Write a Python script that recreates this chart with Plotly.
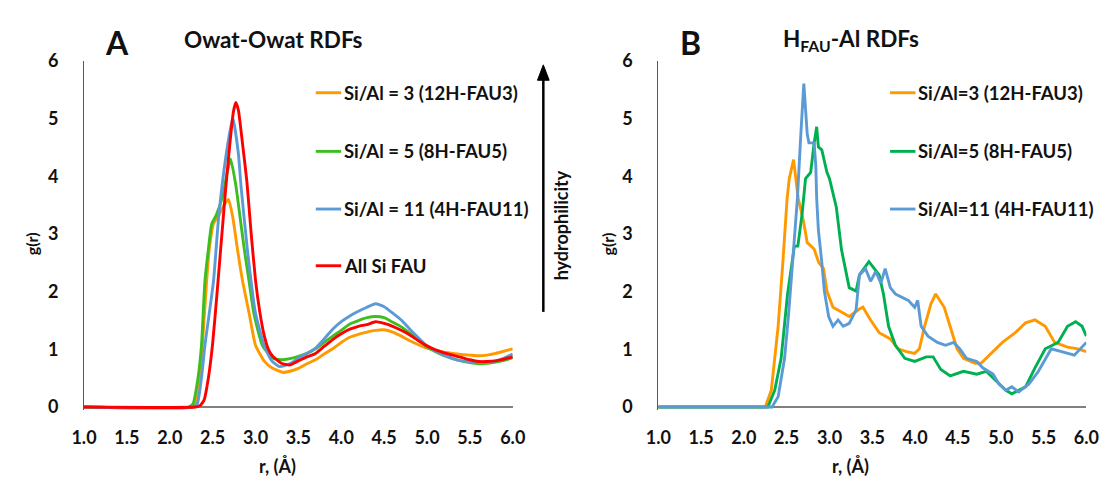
import plotly.graph_objects as go

# ---------------- Panel A: Owat-Owat RDFs ----------------
a3_r = [1.0, 2.25, 2.30, 2.35, 2.38, 2.43, 2.46, 2.51, 2.58, 2.64, 2.685, 2.735, 2.79, 2.85, 2.925, 3.00, 3.10, 3.19, 3.32, 3.40,
        3.5, 3.6, 3.7, 3.8, 3.9, 4.0, 4.1, 4.2, 4.3, 4.4, 4.5, 4.6, 4.7, 4.8, 4.9, 5.0, 5.1, 5.2, 5.3, 5.4, 5.5, 5.6, 5.7, 5.8, 5.9, 6.0]
a3_g = [0, 0, 0.05, 0.5, 1.07, 2.18, 2.73, 3.18, 3.35, 3.52, 3.6, 3.29, 2.73, 2.18, 1.63, 1.07, 0.8, 0.68, 0.6, 0.62,
        0.67, 0.75, 0.82, 0.92, 1.01, 1.12, 1.21, 1.26, 1.3, 1.33, 1.34, 1.3, 1.23, 1.15, 1.08, 1.02, 0.98, 0.95, 0.93, 0.91, 0.9, 0.89, 0.9, 0.93, 0.97, 1.01]

a5_r = [1.0, 2.22, 2.27, 2.33, 2.37, 2.41, 2.45, 2.49, 2.54, 2.62, 2.67, 2.71, 2.77, 2.82, 2.87, 2.925, 2.98, 3.08, 3.20, 3.30, 3.40,
        3.5, 3.6, 3.7, 3.8, 3.9, 4.0, 4.1, 4.2, 4.3, 4.4, 4.5, 4.6, 4.7, 4.8, 4.9, 5.0, 5.1, 5.2, 5.3, 5.4, 5.5, 5.6, 5.7, 5.8, 5.9, 6.0]
a5_g = [0, 0, 0.05, 0.51, 1.07, 2.18, 2.73, 3.18, 3.32, 3.68, 4.07, 4.3, 3.85, 3.29, 2.73, 2.18, 1.63, 1.07, 0.85, 0.82, 0.84,
        0.88, 0.93, 1.01, 1.12, 1.23, 1.33, 1.44, 1.5, 1.55, 1.57, 1.55, 1.47, 1.39, 1.28, 1.17, 1.04, 0.96, 0.89, 0.84, 0.8, 0.77, 0.75, 0.76, 0.78, 0.81, 0.86]

a11_r = [1.0, 2.27, 2.32, 2.37, 2.41, 2.51, 2.57, 2.66, 2.735, 2.80, 2.83, 2.905, 3.00, 3.10, 3.19, 3.28, 3.40,
         3.5, 3.6, 3.7, 3.8, 3.9, 4.0, 4.1, 4.2, 4.3, 4.4, 4.5, 4.6, 4.7, 4.8, 4.9, 5.0, 5.1, 5.2, 5.3, 5.4, 5.5, 5.6, 5.7, 5.8, 5.9, 6.0]
a11_g = [0, 0, 0.05, 0.51, 1.07, 2.18, 3.29, 4.4, 5.02, 4.4, 3.85, 2.73, 1.63, 1.07, 0.8, 0.7, 0.75,
         0.85, 0.93, 1.02, 1.18, 1.35, 1.48, 1.58, 1.66, 1.73, 1.79, 1.74, 1.63, 1.51, 1.35, 1.2, 1.06, 0.97, 0.9, 0.84, 0.8, 0.79, 0.78, 0.78, 0.8, 0.85, 0.92]

asi_r = [1.0, 2.30, 2.35, 2.40, 2.45, 2.50, 2.55, 2.60, 2.65, 2.70, 2.74, 2.77, 2.80, 2.85, 2.90, 2.95, 3.00, 3.05, 3.10, 3.15, 3.20, 3.30, 3.40,
         3.5, 3.6, 3.7, 3.8, 3.9, 4.0, 4.1, 4.2, 4.3, 4.4, 4.5, 4.6, 4.7, 4.8, 4.9, 5.0, 5.1, 5.2, 5.3, 5.4, 5.5, 5.6, 5.7, 5.8, 5.9, 6.0]
asi_g = [0, 0, 0.02, 0.12, 0.5, 1.1, 1.95, 2.85, 3.75, 4.55, 5.1, 5.28, 5.15, 4.55, 3.9, 3.0, 2.2, 1.65, 1.25, 1.0, 0.88, 0.76, 0.73,
         0.8, 0.87, 0.93, 1.05, 1.17, 1.27, 1.35, 1.4, 1.43, 1.48, 1.45, 1.4, 1.33, 1.25, 1.15, 1.06, 0.99, 0.94, 0.9, 0.86, 0.82, 0.79, 0.79, 0.8, 0.83, 0.87]

# ---------------- Panel B: HFAU-Al RDFs ----------------
b3_r = [1.0, 2.25, 2.32, 2.40, 2.455, 2.505, 2.53, 2.58, 2.634, 2.695, 2.74, 2.82, 2.873, 2.93, 2.97, 3.04, 3.16, 3.23, 3.35, 3.39,
        3.48, 3.58, 3.71, 3.80, 3.90, 3.995, 4.05, 4.11, 4.185, 4.24, 4.34, 4.41, 4.49, 4.565, 4.70, 4.77, 4.91, 5.02, 5.17, 5.29,
        5.40, 5.52, 5.63, 5.78, 5.90, 6.00]
b3_g = [0, 0, 0.29, 1.4, 2.51, 3.62, 3.96, 4.29, 3.62, 3.23, 2.85, 2.74, 2.51, 2.4, 2.01, 1.73, 1.63, 1.57, 1.7, 1.73,
        1.51, 1.29, 1.18, 1.01, 0.96, 0.93, 1.01, 1.4, 1.79, 1.96, 1.73, 1.4, 1.01, 0.845, 0.76, 0.76, 0.96, 1.12, 1.29, 1.46,
        1.51, 1.4, 1.12, 1.04, 1.01, 0.96]

b5_r = [1.0, 2.28, 2.36, 2.435, 2.51, 2.59, 2.63, 2.68, 2.72, 2.78, 2.82, 2.85, 2.87, 2.91, 2.97, 3.00, 3.08, 3.14, 3.23, 3.31,
        3.35, 3.46, 3.58, 3.63, 3.69, 3.77, 3.88, 3.995, 4.13, 4.21, 4.30, 4.41, 4.565, 4.72, 4.83, 4.945, 5.06, 5.13, 5.29, 5.40,
        5.52, 5.67, 5.78, 5.875, 5.95, 6.00]
b5_g = [0, 0, 0.29, 0.845, 1.96, 2.79, 2.79, 3.35, 3.96, 4.07, 4.57, 4.86, 4.51, 4.46, 4.07, 3.96, 3.46, 2.73, 2.07, 2.01,
        2.29, 2.52, 2.29, 1.96, 1.4, 1.07, 0.845, 0.79, 0.87, 0.87, 0.65, 0.54, 0.62, 0.57, 0.62, 0.46, 0.29, 0.23, 0.35, 0.68,
        1.01, 1.12, 1.4, 1.48, 1.4, 1.23]

b11_r = [1.0, 2.33, 2.36, 2.40, 2.475, 2.52, 2.58, 2.625, 2.665, 2.70, 2.74, 2.76, 2.82, 2.84, 2.85, 2.87, 2.91, 2.94, 2.99, 3.04,
         3.10, 3.16, 3.23, 3.27, 3.31, 3.35, 3.42, 3.48, 3.54, 3.60, 3.65, 3.71, 3.77, 3.92, 3.995, 4.03, 4.07, 4.15, 4.26, 4.355, 4.45,
         4.52, 4.60, 4.72, 4.79, 4.91, 4.98, 5.06, 5.13, 5.21, 5.33, 5.44, 5.59, 5.71, 5.86, 6.00]
b11_g = [0, 0, 0.08, 0.18, 0.845, 1.57, 2.73, 3.62, 4.73, 5.61, 4.73, 4.58, 4.58, 4.18, 3.62, 3.07, 2.51, 2.01, 1.57, 1.4,
         1.51, 1.4, 1.45, 1.57, 1.68, 2.29, 2.4, 2.18, 2.35, 2.15, 2.4, 2.07, 1.96, 1.85, 1.73, 1.85, 1.4, 1.23, 1.12, 1.07, 1.12,
         1.01, 0.845, 0.79, 0.68, 0.57, 0.4, 0.29, 0.35, 0.26, 0.4, 0.62, 1.01, 0.96, 0.9, 1.12]

x_ticks = [1.0, 1.5, 2.0, 2.5, 3.0, 3.5, 4.0, 4.5, 5.0, 5.5, 6.0]
y_ticks = [0, 1, 2, 3, 4, 5, 6]

legend_a = ["Si/Al = 3 (12H-FAU3)", "Si/Al = 5 (8H-FAU5)", "Si/Al = 11 (4H-FAU11)", "All Si FAU"]
legend_b = ["Si/Al=3 (12H-FAU3)", "Si/Al=5 (8H-FAU5)", "Si/Al=11 (4H-FAU11)"]

ORANGE = "#FF9900"
GREEN_A = "#3CBE1E"
GREEN_B = "#00B050"
BLUE = "#5B9BD5"
RED = "#FF0000"

W, H = 1114, 489
FONT = "Lato"


def px(x):
    return x / W


def py(y):
    return 1 - y / H


fig = go.Figure()
LW = 2.9

series_a = [(a3_r, a3_g, ORANGE), (a5_r, a5_g, GREEN_A), (a11_r, a11_g, BLUE), (asi_r, asi_g, RED)]
for (r, g, c), name in zip(series_a, legend_a):
    fig.add_trace(go.Scatter(x=r, y=g, mode="lines", name=name, showlegend=False,
                             line=dict(color=c, width=LW, shape="spline", smoothing=0.5),
                             xaxis="x", yaxis="y"))

series_b = [(b3_r, b3_g, ORANGE), (b5_r, b5_g, GREEN_B), (b11_r, b11_g, BLUE)]
for (r, g, c), name in zip(series_b, legend_b):
    fig.add_trace(go.Scatter(x=r, y=g, mode="lines", name=name, showlegend=False,
                             line=dict(color=c, width=LW),
                             xaxis="x2", yaxis="y2"))

tickfont = dict(family=FONT, size=18, color="#111111", weight="bold")
xa = dict(range=[1, 6], tickvals=x_ticks, ticktext=[f"{v:.1f}" for v in x_ticks], showgrid=False,
          showline=False, zeroline=False, ticks="", tickfont=tickfont, ticklabelstandoff=15, fixedrange=True)
ya = dict(range=[-0.05, 6], tickvals=y_ticks, showgrid=False, showline=True, linecolor="#595959", linewidth=1,
          zeroline=True, zerolinecolor="#808080", zerolinewidth=2, ticks="", tickfont=tickfont,
          ticklabelstandoff=21, layer="below traces")

y_dom = [py(414), py(51)]
fig.update_layout(
    width=W, height=H, margin=dict(l=0, r=0, t=0, b=0),
    paper_bgcolor="white", plot_bgcolor="white",
    font=dict(family=FONT, color="#111111"),
    xaxis=dict(domain=[px(72.7), px(511.7)], anchor="y", **xa),
    yaxis=dict(domain=y_dom, anchor="x", **ya),
    xaxis2=dict(domain=[px(660.7), px(1099)], anchor="y2", **xa),
    yaxis2=dict(domain=y_dom, anchor="x2", **ya),
)

ann = []
shapes = []


def text(x, y, s, size, xanchor="center", angle=0):
    ann.append(dict(x=px(x), y=py(y), xref="paper", yref="paper", text=s, showarrow=False,
                    xanchor=xanchor, yanchor="middle", textangle=angle,
                    font=dict(family=FONT, size=size, color="#111111", weight="bold")))


# panel labels and titles
text(106, 32, "A", 32)
text(267, 29, "Owat-Owat RDFs", 22.5)
text(694, 32, "B", 32)
text(858, 29, "H<sub>FAU</sub>-Al RDFs", 22.5)

# axis titles
text(271, 472, "r, (Å)", 18)
text(858, 472, "r, (Å)", 18)
text(19, 241, "g(r)", 16, angle=-90)
text(609, 241, "g(r)", 16, angle=-90)

# legends
for name, c, yy in zip(legend_a, [ORANGE, GREEN_A, BLUE, RED], [84, 145, 205, 264]):
    shapes.append(dict(type="line", xref="paper", yref="paper", x0=px(310), x1=px(336), y0=py(yy), y1=py(yy),
                       line=dict(color=c, width=LW)))
    text(337, yy, name, 18.5, xanchor="left")

for name, c, yy in zip(legend_b, [ORANGE, GREEN_B, BLUE], [84, 145, 205]):
    shapes.append(dict(type="line", xref="paper", yref="paper", x0=px(898), x1=px(924), y0=py(yy), y1=py(yy),
                       line=dict(color=c, width=LW)))
    text(925, yy, name, 18.5, xanchor="left")

# hydrophilicity arrow: shaft and filled head
shapes.append(dict(type="line", xref="paper", yref="paper", x0=px(543), x1=px(543), y0=py(312), y1=py(68),
                   line=dict(color="#000000", width=2.5)))
head = (f"M {px(543)} {py(55)} L {px(537)} {py(71)} L {px(549)} {py(71)} Z")
shapes.append(dict(type="path", xref="paper", yref="paper", path=head,
                   fillcolor="#000000", line=dict(color="#000000", width=1)))
text(561, 222, "hydrophilicity", 18, angle=-90)

fig.update_layout(annotations=ann, shapes=shapes)
fig.write_html("out.html")
